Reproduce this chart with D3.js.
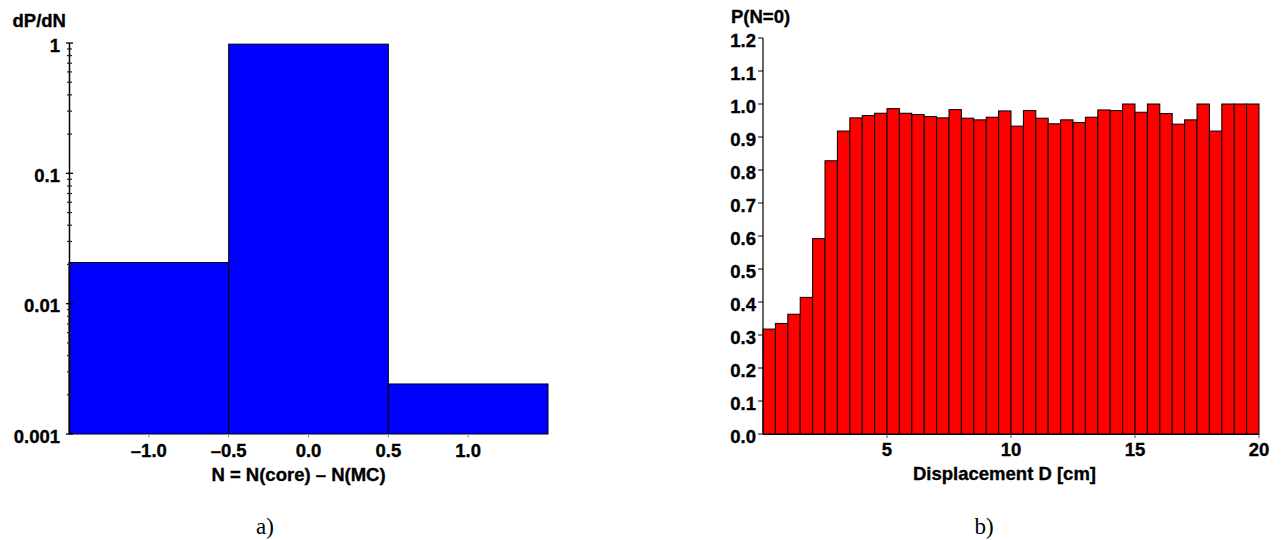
<!DOCTYPE html>
<html><head><meta charset="utf-8">
<script src="https://cdn.jsdelivr.net/npm/d3@7"></script>
<style>body{margin:0;background:#fff}svg{display:block}text{font-family:"Liberation Sans",Arial,sans-serif;font-weight:bold;fill:#000;stroke:#000;stroke-width:0.35px}</style>
</head><body>
<svg id="c" width="1281" height="540"></svg>
<script>
// Panel a) data
const nCenters = [-1, 0, 1];
const dPdN = [0.0207, 0.98, 0.00242];
const aXTicks = [-1.0, -0.5, 0.0, 0.5, 1.0];
const aYTicks = [0.001, 0.01, 0.1, 1];
const aYLabels = ["0.001", "0.01", "0.1", "1"];
// Panel b) data
const binWidth = 0.5;
const pN0 = [0.318,0.335,0.363,0.414,0.592,0.828,0.918,0.958,0.965,0.972,
             0.986,0.972,0.968,0.962,0.958,0.983,0.957,0.952,0.960,0.979,
             0.933,0.980,0.957,0.940,0.952,0.944,0.960,0.982,0.980,1.0,
             0.975,1.0,0.971,0.939,0.952,1.0,0.918,1.0,1.0,1.0];
const bXTicks = [5, 10, 15, 20];
const bYTicks = [0,0.1,0.2,0.3,0.4,0.5,0.6,0.7,0.8,0.9,1.0,1.1,1.2];

const svg = d3.select("#c");
const fs = "18.5px";
const dash = s => s.replace("-", "\u2013");

// ---------- Panel a ----------
const ax = d3.scaleLinear().domain([-1.5, 1.5]).range([69, 548]);
const ay = d3.scaleLog().domain([0.001, 1]).range([434, 43]);
const ga = svg.append("g");
ga.selectAll("rect").data(nCenters).join("rect")
  .attr("x", d => ax(d - 0.5)).attr("width", d => ax(d + 0.5) - ax(d - 0.5))
  .attr("y", (d, i) => ay(dPdN[i])).attr("height", (d, i) => ay(0.001) - ay(dPdN[i]))
  .attr("fill", "#0000ff").attr("stroke", "#000").attr("stroke-width", 1);
ga.append("line").attr("x1", 69.5).attr("x2", 69.5).attr("y1", ay(1)).attr("y2", ay(0.001))
  .attr("stroke", "#000").attr("stroke-width", 1.5);
const minor = [];
[0.001, 0.01, 0.1].forEach(dec => { for (let k = 2; k <= 9; k++) minor.push(dec * k); });
ga.selectAll("line.mn").data(minor).join("line").attr("class", "mn")
  .attr("x1", 67).attr("x2", 72).attr("y1", d => ay(d)).attr("y2", d => ay(d))
  .attr("stroke", "#222").attr("stroke-width", 1.2);
ga.selectAll("line.mj").data(aYTicks).join("line").attr("class", "mj")
  .attr("x1", 66).attr("x2", 73).attr("y1", d => ay(d)).attr("y2", d => ay(d))
  .attr("stroke", "#000").attr("stroke-width", 1.3);
ga.selectAll("text.yl").data(aYTicks).join("text").attr("class", "yl")
  .attr("x", 60).attr("y", d => ay(d) + 8.5).attr("text-anchor", "end").style("font-size", fs)
  .text((d, i) => aYLabels[i]);
ga.selectAll("line.xt").data(aXTicks).join("line").attr("class", "xt")
  .attr("x1", d => ax(d)).attr("x2", d => ax(d)).attr("y1", 434).attr("y2", 437.5)
  .attr("stroke", "#888").attr("stroke-width", 1);
ga.selectAll("text.xl").data(aXTicks).join("text").attr("class", "xl")
  .attr("x", d => ax(d)).attr("y", 457).attr("text-anchor", "middle").style("font-size", fs)
  .text(d => dash(d.toFixed(1)));
ga.append("text").attr("x", ax(0) - 10).attr("y", 481).attr("text-anchor", "middle")
  .style("font-size", fs).text("N = N(core) \u2013 N(MC)");
ga.append("text").attr("x", 12.5).attr("y", 26.5).style("font-size", "18.5px").text("dP/dN");
svg.append("text").attr("x", 265).attr("y", 534).attr("text-anchor", "middle")
  .style("font-family", "'Liberation Serif','DejaVu Serif',serif").style("font-weight", "normal")
  .style("stroke-width", "0").style("font-size", "23px").text("a)");

// ---------- Panel b ----------
const bx = d3.scaleLinear().domain([0, 20]).range([763, 1259]);
const by = d3.scaleLinear().domain([0, 1.2]).range([434, 38]);
const gb = svg.append("g");
gb.selectAll("rect").data(pN0).join("rect")
  .attr("x", (d, i) => bx(i * binWidth)).attr("width", (d, i) => bx((i + 1) * binWidth) - bx(i * binWidth))
  .attr("y", d => by(d)).attr("height", d => by(0) - by(d))
  .attr("fill", "#ff0000").attr("stroke", "#000").attr("stroke-width", 1);
gb.append("line").attr("x1", 763).attr("x2", 763).attr("y1", by(1.2)).attr("y2", by(0))
  .attr("stroke", "#000").attr("stroke-width", 1.2);
gb.append("line").attr("x1", 763).attr("x2", 1259).attr("y1", 434.5).attr("y2", 434.5)
  .attr("stroke", "#000").attr("stroke-width", 1);
gb.selectAll("line.yt").data(bYTicks).join("line").attr("class", "yt")
  .attr("x1", 758).attr("x2", 763).attr("y1", d => by(d)).attr("y2", d => by(d))
  .attr("stroke", "#000").attr("stroke-width", 1);
gb.selectAll("text.yl").data(bYTicks).join("text").attr("class", "yl")
  .attr("x", 756).attr("y", d => by(d) + 8.5).attr("text-anchor", "end").style("font-size", fs)
  .text(d => d.toFixed(1));
gb.selectAll("line.xt").data(bXTicks).join("line").attr("class", "xt")
  .attr("x1", d => bx(d)).attr("x2", d => bx(d)).attr("y1", 434).attr("y2", 438)
  .attr("stroke", "#555").attr("stroke-width", 1);
gb.selectAll("text.xl").data(bXTicks).join("text").attr("class", "xl")
  .attr("x", d => bx(d)).attr("y", 456).attr("text-anchor", "middle").style("font-size", fs)
  .text(d => d);
gb.append("text").attr("x", 1004.5).attr("y", 480).attr("text-anchor", "middle")
  .style("font-size", fs).text("Displacement D [cm]");
gb.append("text").attr("x", 731).attr("y", 23).style("font-size", "18.5px").text("P(N=0)");
svg.append("text").attr("x", 984).attr("y", 534).attr("text-anchor", "middle")
  .style("font-family", "'Liberation Serif','DejaVu Serif',serif").style("font-weight", "normal")
  .style("stroke-width", "0").style("font-size", "23px").text("b)");
</script>
</body></html>
